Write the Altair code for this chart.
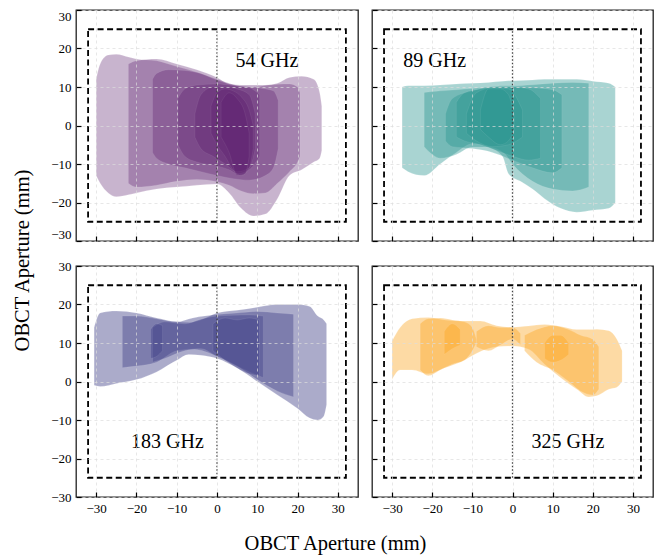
import altair as alt
import pandas as pd

# ---------------- data ----------------
TICKS = [-30, -20, -10, 0, 10, 20, 30]
X_DOMAIN = [-35, 35]
Y_DOMAIN = [-30, 30]
BOX_X = [-32, 32]
BOX_Y = [-25, 25]
CENTER_X = [0]

PANEL_NAMES = ["54 GHz", "89 GHz", "183 GHz", "325 GHz"]
PANEL_COLORS = ["#5c1e6e", "#2a9590", "#46468c", "#fca51e"]
PANEL_OPACITY = [0.33, 0.4, 0.45, 0.4]
LABEL_X = [12.4, -19.4, -12.3, 13.8]
LABEL_Y = [16.8, 16.8, -15.8, -15.8]

# each shape: (x, lower edge, upper edge)
G54_A = [(-30, -13, 12), (-29, -15, 16), (-27, -17.5, 18.3), (-25, -18.5, 18.5), (-22, -18, 17.8),
         (-20, -17.5, 17.3), (-15, -16.5, 16.8), (-10, -16, 15.3), (-5, -15.5, 13.8), (0, -15.2, 12),
         (3, -17.5, 11), (6, -21.5, 10.2), (9, -23.5, 10), (12, -23, 10.4), (15, -19, 11),
         (18, -13, 12.5), (21, -11.5, 12.8), (24, -9.5, 12), (25.5, -8.5, 8.5), (26, -6.5, 5)]
G54_B = [(-22, -15, 16), (-20, -16, 16.8), (-15, -15.5, 17.3), (-10, -14.5, 16), (-5, -14, 14.5),
         (0, -14.6, 12.5), (3, -15.5, 10.8), (6, -17, 10.5), (9, -17.7, 10.5), (12, -17.5, 10.5),
         (15, -15, 10.7), (18, -12, 10.8), (20, -9.5, 10), (20.6, -8, 8.5)]
G54_C = [(-16, -7, 12), (-15, -8.5, 13.5), (-12, -10, 14.5), (-8, -11, 14.3), (-4, -12, 13.5),
         (0, -13, 11.8), (4, -13.8, 10.5), (8, -14.2, 10), (12, -13, 9.5), (14, -11, 9), (15.2, -6, 6.5)]
G54_D = [(-9.7, -5, 7), (-8, -8, 9.5), (-5, -9.5, 10.5), (0, -10.5, 10.8), (3, -11.5, 10.5),
         (5, -12.5, 10.2), (8, -11.5, 9.8), (10.6, -8, 8)]
G54_E = [(-5.5, -3, 3), (-4, -6, 8), (-1, -8, 10), (2, -10, 10), (5, -12, 9.5), (8, -11, 8), (9.5, -6, 3)]
G54_F = [(-1.5, -2, 5), (0, -5, 8.5), (2, -8, 9.5), (4, -11.5, 9), (6, -13, 7.5), (8, -11, 4), (9, -6, 0)]
G54_G = [(1, -3, 6), (3, -7, 8.5), (5, -13, 7), (7, -12.5, 3), (8, -8, -2)]

G89_A = [(-27.5, -11, 10), (-26, -12, 10.3), (-22, -13, 10.3), (-18, -10, 10.5), (-14, -7, 10.8),
         (-10, -4.7, 11), (-6, -5.6, 11.2), (-2.5, -8, 11.5), (-1, -12.5, 11.6), (2, -14.5, 11.7),
         (5, -16.5, 11.8), (8, -19, 12), (12, -21.5, 12), (16, -22.5, 12), (20, -22, 11.5),
         (24, -21.5, 11), (25.6, -20, 10)]
G89_B = [(-22, -5.5, 8.6), (-20, -7.5, 8.8), (-18, -8.5, 9), (-14, -7.5, 9.3), (-10, -5.6, 9.6),
         (-6, -5.6, 10), (-2, -7.3, 10.3), (0, -10, 10.3), (5, -14.5, 10.6), (10, -16.5, 11),
         (15, -17, 11.2), (19, -16, 11)]
G89_C = [(-16.7, -4, 3), (-15, -5.5, 7), (-10, -6, 9), (-5, -7, 10), (0, -9, 10), (5, -11, 9.8),
         (10, -12.3, 9.3), (12.3, -11, 8)]
G89_D = [(-14, -3, 6), (-12, -4, 8.5), (-8, -5, 9.5), (-4, -6.5, 10), (0, -8, 10), (4, -9, 9.5), (7, -8.5, 7)]
G89_E = [(-11.5, -2, 3), (-9, -4, 8.5), (-5, -5.5, 9.8), (-1, -5, 9.5), (2.5, -3, 4)]
G89_F = [(-8, -1, 4), (-6, -3, 9.5), (-3, -5, 9.5), (-1, -4, 8), (0.5, -1, 2)]

G183_A = [(-30.5, -1, 14), (-29, -1.3, 17.8), (-25, -0.5, 18.3), (-20, 0.5, 17.8), (-15, 2.5, 16.5),
          (-10, 5.5, 15.5), (-7, 7, 15.3), (-4, 6.8, 16), (0, 6, 17.8), (5, 3.5, 18.5), (10, 0, 19.3),
          (15, -3.5, 20), (20, -7, 20), (23, -9.5, 19.5), (25, -10, 17), (26.5, -9, 16), (27.2, -6, 15)]
G183_B = [(-23.5, 3.6, 17), (-20, 4, 17), (-15, 5, 16.3), (-10, 8, 15.5), (-6, 8.4, 16.5), (0, 6.6, 17.4),
          (5, 4, 17.8), (10, 0.5, 18.2), (15, -2.5, 17.8), (19, -4, 17.5)]
G183_C = [(-16, 5, 14), (-13, 6, 15.5), (-8, 8, 15), (-4, 8.5, 16.2), (0, 6.5, 17), (4, 4.5, 17.2),
          (8, 2.5, 17.3), (11.5, 1, 17)]
G183_D = [(-1, 8, 15), (2, 5.5, 16.5), (5, 3.5, 16), (8, 2, 16.5), (10.5, 1.5, 16)]
G183_E = [(-16.5, 6, 13.5), (-15, 6.5, 15), (-13.5, 8, 14.5)]

G325_A = [(-30, 0.5, 10.5), (-28, 3, 14), (-25, 3, 16.3), (-21, 2, 16.6), (-17, 3.5, 16), (-13, 5, 15.7),
          (-8, 7.8, 15.7), (-4, 9, 14.5), (0, 9.2, 14.1), (4, 8.4, 14.4), (8, 4.5, 14.8), (12, 1, 14.3),
          (16, -2, 13.5), (19, -4, 13.5), (21, -3.7, 13.6), (24, -2, 13.2), (26, -1.5, 11), (27.3, 0, 8)]
G325_B1 = [(-23, 3, 15), (-21, 1.5, 16.3), (-18, 3, 16.5), (-15, 4.5, 16), (-12, 5.5, 15.5), (-10, 8, 14), (-9, 10, 11)]
G325_B2 = [(-9, 9, 13), (-6, 8, 14.5), (-3, 9.5, 14), (0, 11, 14), (2, 9.5, 12.5)]
G325_B3 = [(3, 8, 12), (6, 5, 13.5), (10, 3, 14.5), (14, 0, 13.5), (17, -2.5, 12), (20, -3.5, 11), (21.5, -2, 9)]
G325_C1 = [(-17, 7, 13), (-15, 8.5, 15), (-13, 9.5, 13.5)]
G325_C2 = [(8, 6, 10), (10, 5, 12), (12, 5.5, 12), (14, 7, 10)]

PANEL_SHAPES = [
    [G54_A, G54_B, G54_C, G54_D, G54_E, G54_F, G54_G],
    [G89_A, G89_B, G89_C, G89_D, G89_E, G89_F],
    [G183_A, G183_B, G183_C, G183_D, G183_E],
    [G325_A, G325_B1, G325_B2, G325_B3, G325_C1, G325_C2],
]

FONT = "Liberation Serif"
AXIS_TITLE = "OBCT Aperture (mm)"
W_LEFT, W_RIGHT, H = 282, 281, 231


def panel(idx, show_x, show_y, width, x_title=False, y_title=False, flush_y=False):
    rows = []
    for i, s in enumerate(PANEL_SHAPES[idx]):
        for (x, lo, hi) in s:
            rows.append({"shape": i, "x": x, "lo": lo, "hi": hi})
    df = pd.DataFrame(rows)

    xs = alt.Scale(domain=X_DOMAIN, nice=False, zero=False)
    ys = alt.Scale(domain=Y_DOMAIN, nice=False, zero=False)

    grid = dict(grid=True, gridDash=[3, 3], gridColor="#dddddd", gridWidth=0.7,
                ticks=False, domain=False, labelPadding=5, zindex=1)
    xa = dict(values=TICKS, labels=show_x, orient="bottom", **grid)
    ya = dict(values=TICKS, labels=show_y, orient="left", **grid)
    if flush_y:
        ya.update(labelFlush=True)
    if x_title:
        xa.update(title=AXIS_TITLE, titleX=259, titleY=46, titleBaseline="middle", titleAlign="center")
    else:
        xa.update(title=None)
    if y_title:
        ya.update(title=AXIS_TITLE, titleX=-54, titleY=250, titleBaseline="middle", titleAlign="center",
                  titleAngle=270)
    else:
        ya.update(title=None)

    areas = alt.Chart(df).mark_area(
        color=PANEL_COLORS[idx], opacity=PANEL_OPACITY[idx], interpolate="monotone",
        stroke="white", strokeWidth=0.5, strokeOpacity=0.35
    ).encode(
        x=alt.X("x:Q", scale=xs, axis=alt.Axis(**xa)),
        y=alt.Y("lo:Q", scale=ys, axis=alt.Axis(**ya), stack=None),
        y2="hi:Q",
        detail="shape:N",
    )

    tick_common = dict(values=TICKS, offset=-5, tickSize=5, labels=False, domain=False, grid=False,
                       title=None, tickColor="black", tickWidth=1.2, zindex=2)
    box_df = pd.DataFrame({"x1": [BOX_X[0]], "x2": [BOX_X[1]], "y1": [BOX_Y[0]], "y2": [BOX_Y[1]]})
    box = alt.Chart(box_df).mark_rect(
        filled=False, stroke="black", strokeWidth=1.8, strokeDash=[6, 3.5]
    ).encode(
        x=alt.X("x1:Q", scale=xs, axis=alt.Axis(orient="bottom", **tick_common)),
        x2="x2:Q",
        y=alt.Y("y1:Q", scale=ys, axis=alt.Axis(orient="left", **tick_common)),
        y2="y2:Q",
    )

    c_df = pd.DataFrame({"x": CENTER_X, "y1": [BOX_Y[0]], "y2": [BOX_Y[1]]})
    center = alt.Chart(c_df).mark_rule(
        color="#444444", strokeWidth=1.3, strokeDash=[1.5, 2]
    ).encode(
        x=alt.X("x:Q", scale=xs, axis=None),
        y=alt.Y("y1:Q", scale=ys, axis=None),
        y2="y2:Q",
    )

    t_df = pd.DataFrame({"x": [LABEL_X[idx]], "y": [LABEL_Y[idx]], "t": [PANEL_NAMES[idx]]})
    text = alt.Chart(t_df).mark_text(
        font=FONT, fontSize=20, color="black", align="center", baseline="middle"
    ).encode(
        x=alt.X("x:Q", scale=xs, axis=None),
        y=alt.Y("y:Q", scale=ys, axis=None),
        text="t:N",
    )

    return alt.layer(areas, box, center, text).resolve_axis(
        x="independent", y="independent"
    ).properties(width=width, height=H)


p54 = panel(0, show_x=False, show_y=True, width=W_LEFT, y_title=True, flush_y=True)
p89 = panel(1, show_x=False, show_y=False, width=W_RIGHT)
p183 = panel(2, show_x=True, show_y=True, width=W_LEFT, x_title=True)
p325 = panel(3, show_x=True, show_y=False, width=W_RIGHT)

chart = alt.concat(
    p54, p89, p183, p325, columns=2, spacing={"row": 25, "column": 14}, bounds="flush"
).properties(
    padding={"left": 3, "right": 0, "top": 0, "bottom": 0},
    background="white",
).configure_view(
    stroke="#222222", strokeWidth=1.3
).configure_axis(
    labelFont=FONT, labelFontSize=13, labelColor="black",
    titleFont=FONT, titleFontSize=20.5, titleColor="black", titleFontWeight="normal"
)

chart.save("out.html", embed_options={"renderer": "svg", "actions": False})
